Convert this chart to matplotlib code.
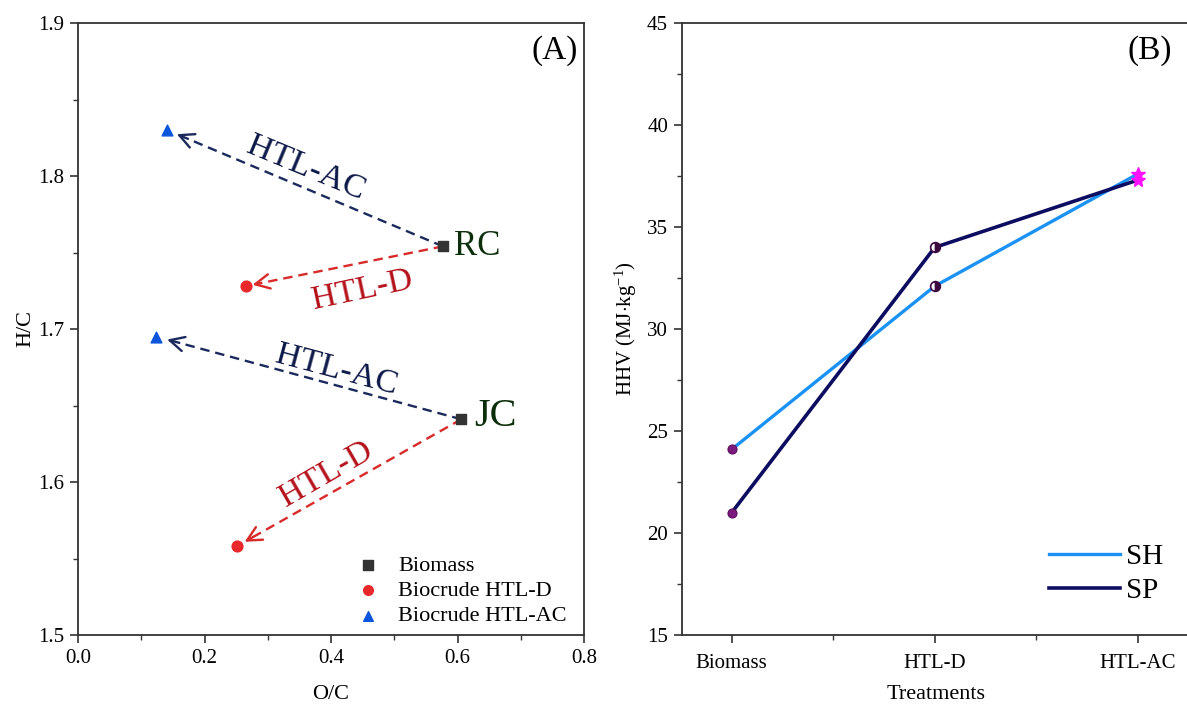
import matplotlib
matplotlib.use("Agg")
import matplotlib.pyplot as plt
import numpy as np

plt.rcParams['font.family'] = ['Liberation Serif', 'DejaVu Serif']
plt.rcParams['mathtext.fontset'] = 'custom'
plt.rcParams['mathtext.rm'] = 'Liberation Serif'
plt.rcParams['mathtext.it'] = 'Liberation Serif:italic'

# ---------------- Data: panel A (Van Krevelen) ----------------
samples = ["RC", "JC"]
biomass_oc = [0.577, 0.606]
biomass_hc = [1.754, 1.641]
htld_oc = [0.265, 0.251]
htld_hc = [1.728, 1.558]
htlac_oc = [0.141, 0.124]
htlac_hc = [1.830, 1.695]
legend_labels_a = ["Biomass", "Biocrude HTL-D", "Biocrude HTL-AC"]

# ---------------- Data: panel B (HHV) ----------------
treatments = ["Biomass", "HTL-D", "HTL-AC"]
hhv_sh = [24.1, 32.1, 37.6]
hhv_sp = [21.0, 34.0, 37.3]
series_b = ["SH", "SP"]

W, H = 1187, 706
fig = plt.figure(figsize=(W / 100, H / 100), dpi=100)

def frac(x0, y0, x1, y1):
    return [x0 / W, 1 - y1 / H, (x1 - x0) / W, (y1 - y0) / H]

axA = fig.add_axes(frac(78, 23, 584, 635))
axB = fig.add_axes(frac(682, 23, 1189.5, 635))

spine_c = '#333333'
for ax in (axA, axB):
    for s in ax.spines.values():
        s.set_color(spine_c)
        s.set_linewidth(1.3)
    ax.tick_params(which='major', direction='out', length=6, width=1.2,
                   color=spine_c, labelsize=15, pad=4)
    ax.tick_params(which='minor', direction='out', length=3.5, width=1.0,
                   color=spine_c)

# ---------------- Panel A ----------------
axA.set_xlim(0.0, 0.8)
axA.set_ylim(1.5, 1.9)
axA.set_xticks(np.arange(0, 0.81, 0.2))
axA.set_xticks(np.arange(0.1, 0.8, 0.2), minor=True)
axA.set_yticks(np.arange(1.5, 1.91, 0.1))
axA.set_yticks(np.arange(1.55, 1.9, 0.1), minor=True)
axA.set_xticklabels(["0.0", "0.2", "0.4", "0.6", "0.8"])
axA.set_yticklabels(["1.5", "1.6", "1.7", "1.8", "1.9"])
axA.set_xlabel("O/C", fontsize=16, labelpad=12)
axA.set_ylabel("H/C", fontsize=16, labelpad=2)

navy_arrow = '#1b2a5c'
red_arrow = '#d92a2a'

def dashed_arrow(ax, x0, y0, x1, y1, color):
    # line from (x0,y0) toward (x1,y1), stopping a little short of the target
    t_tip = 0.035
    tx = x1 + (x0 - x1) * t_tip
    ty = y1 + (y0 - y1) * t_tip
    t_base = 0.075
    bx = x1 + (x0 - x1) * t_base
    by = y1 + (y0 - y1) * t_base
    ax.plot([x0, bx], [y0, by], linestyle=(0, (4, 2.5)), color=color, lw=1.7, zorder=2)
    ax.annotate("", xy=(tx, ty), xytext=(bx, by),
                arrowprops=dict(arrowstyle='->', color=color, lw=1.7,
                                mutation_scale=26, shrinkA=0, shrinkB=0),
                zorder=2)

for i in range(len(samples)):
    dashed_arrow(axA, biomass_oc[i], biomass_hc[i], htlac_oc[i], htlac_hc[i], navy_arrow)
    dashed_arrow(axA, biomass_oc[i], biomass_hc[i], htld_oc[i], htld_hc[i], red_arrow)

hb = axA.scatter(biomass_oc, biomass_hc, marker='s', s=55, color='#333333', zorder=4,
                 label=legend_labels_a[0])
hd = axA.scatter(htld_oc, htld_hc, marker='o', s=60, color='#e8282a', zorder=4,
                 label=legend_labels_a[1])
ha = axA.scatter(htlac_oc, htlac_hc, marker='^', s=60, color='#0a55dc', zorder=4,
                 label=legend_labels_a[2])

text_navy = '#0c1848'
text_red = '#b5121b'
green = '#0b2e0b'
axA.text(0.360, 1.805, "HTL-AC", fontsize=24.5, color=text_navy, rotation=-22.5,
         ha='center', va='center', rotation_mode='anchor')
axA.text(0.450, 1.725, "HTL-D", fontsize=24.5, color=text_red, rotation=12,
         ha='center', va='center', rotation_mode='anchor')
axA.text(0.408, 1.673, "HTL-AC", fontsize=24.5, color=text_navy, rotation=-15,
         ha='center', va='center', rotation_mode='anchor')
axA.text(0.393, 1.605, "HTL-D", fontsize=24.5, color=text_red, rotation=30,
         ha='center', va='center', rotation_mode='anchor')
axA.text(biomass_oc[0] + 0.017, biomass_hc[0], samples[0], fontsize=25, color=green,
         ha='left', va='center')
axA.text(biomass_oc[1] + 0.021, biomass_hc[1] + 0.002, samples[1], fontsize=29, color=green,
         ha='left', va='center')
axA.text(0.987, 0.955, "(A)", fontsize=24, ha='right', va='center',
         transform=axA.transAxes)

axA.legend(handles=[hb, hd, ha], loc='lower right', bbox_to_anchor=(0.966, 0.014),
           frameon=False, fontsize=16, handlelength=1.2, handletextpad=0.75,
           labelspacing=0.22, borderpad=0, borderaxespad=0, markerscale=0.9)

# ---------------- Panel B ----------------
xb = np.arange(1, len(treatments) + 1)
axB.set_xlim(0.755, 3.255)
axB.set_ylim(15, 45)
axB.set_xticks(xb)
axB.set_xticks([1.5, 2.5], minor=True)
axB.set_xticklabels(treatments)
axB.set_yticks(np.arange(15, 46, 5))
axB.set_yticks(np.arange(17.5, 45, 5), minor=True)
axB.spines['right'].set_visible(False)
axB.tick_params(axis='x', which='major', pad=8)
axB.set_xlabel("Treatments", fontsize=16, labelpad=8)
axB.set_ylabel("HHV (MJ$\\cdot$kg$^{-1}$)", fontsize=15, labelpad=6)

sh_color = '#1a92f5'
sp_color = '#0c0c60'
l1, = axB.plot(xb, hhv_sh, color=sh_color, lw=2.4, label=series_b[0], zorder=2)
l2, = axB.plot(xb, hhv_sp, color=sp_color, lw=2.6, label=series_b[1], zorder=2)

for vals in (hhv_sh, hhv_sp):
    axB.plot(xb[0], vals[0], marker='o', ms=6.5, color='#7d1a7d', mec='#5a0f5a',
             mew=0.8, zorder=4, linestyle='none')
    axB.plot(xb[1], vals[1], marker='o', ms=7, fillstyle='right', color='#3d0a40',
             markerfacecoloralt='white', mec='#3d0a40', mew=1.2, zorder=4,
             linestyle='none')
    axB.plot(xb[2], vals[2], marker='*', ms=10, color='#ff10ff', mec='#ff10ff',
             zorder=4, linestyle='none')

axB.text(3.06, 43.65, "(B)", fontsize=24, ha='center', va='center')

axB.legend(handles=[l1, l2], loc='lower right', bbox_to_anchor=(0.948, 0.05),
           frameon=False, fontsize=21, handlelength=2.45, handletextpad=0.2,
           labelspacing=0.28, borderpad=0, borderaxespad=0)

fig.savefig("out.png", dpi=100)
